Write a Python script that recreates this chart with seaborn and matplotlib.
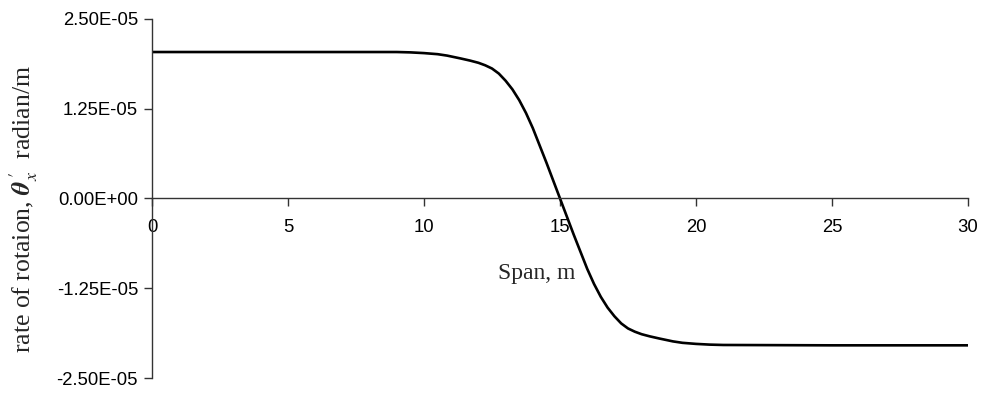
import matplotlib
matplotlib.use("Agg")
import matplotlib.pyplot as plt
import matplotlib.ticker as mticker
import seaborn as sns
import pandas as pd

# Rate of rotation along the span (radian/m)
span_m = [0, 5, 9, 9.5, 10, 10.5, 10.85, 11.1, 11.35, 11.7, 12.0, 12.25, 12.5, 12.75, 13.0,
          13.25, 13.5, 13.75, 14.0, 14.25, 14.5, 14.75, 15.0,
          15.25, 15.5, 15.75, 16.0, 16.25, 16.5, 16.75, 17.0, 17.25, 17.5, 17.75, 18.0,
          18.3, 18.65, 18.9, 19.15, 19.5, 20, 20.5, 21, 25, 30]
rotation_rate = [2.04e-5, 2.04e-5, 2.04e-5, 2.035e-5, 2.025e-5, 2.01e-5, 1.99e-5, 1.97e-5,
                 1.95e-5, 1.92e-5, 1.89e-5, 1.855e-5, 1.81e-5, 1.74e-5, 1.64e-5,
                 1.52e-5, 1.37e-5, 1.19e-5, 0.98e-5, 0.74e-5, 0.50e-5, 0.25e-5, 0.0,
                 -0.25e-5, -0.50e-5, -0.74e-5, -0.98e-5, -1.19e-5, -1.37e-5, -1.52e-5, -1.64e-5,
                 -1.74e-5, -1.81e-5, -1.855e-5, -1.89e-5,
                 -1.92e-5, -1.95e-5, -1.97e-5, -1.99e-5, -2.01e-5, -2.025e-5, -2.035e-5,
                 -2.04e-5, -2.045e-5, -2.045e-5]
x_ticks = [0, 5, 10, 15, 20, 25, 30]
y_ticks = [-2.5e-5, -1.25e-5, 0.0, 1.25e-5, 2.5e-5]

df = pd.DataFrame({"span": span_m, "rate": rotation_rate})

sns.set_style("white")
plt.rcParams["font.family"] = ["Liberation Sans", "DejaVu Sans"]
plt.rcParams["mathtext.fontset"] = "stix"
serif = ["Liberation Serif", "DejaVu Serif"]

fig = plt.figure(figsize=(9.83, 3.94), dpi=100)
ax = fig.add_axes([0.1546, 0.0406, 0.8302, 0.9112])

sns.lineplot(data=df, x="span", y="rate", ax=ax, color="black", linewidth=1.9)

ax.set_xlim(0, 30)
ax.set_ylim(-2.5e-5, 2.5e-5)
ax.set_xticks(x_ticks)
ax.set_yticks(y_ticks)
ax.yaxis.set_major_formatter(mticker.FuncFormatter(lambda v, p: "%.2E" % v))

# Axis lines: left spine at x=0, horizontal axis through y=0
for s in ["top", "right"]:
    ax.spines[s].set_visible(False)
ax.spines["bottom"].set_position(("data", 0))
for s in ["left", "bottom"]:
    ax.spines[s].set_color("#333333")
    ax.spines[s].set_linewidth(1.0)

ax.tick_params(axis="both", direction="out", length=6, width=1, color="#333333",
               labelsize=13.3, labelcolor="black", bottom=True, left=True)
ax.tick_params(axis="x", pad=9)
ax.tick_params(axis="y", pad=4)

ax.set_xlabel("")
ax.set_ylabel("")
ax.text(-0.157, 0.47, r"rate of rotaion, $\boldsymbol{\theta}_{x}^{\;\prime}$  radian/m",
        transform=ax.transAxes, rotation=90, ha="center", va="center",
        family=serif, fontsize=18.5)
ax.text(14.15, -1.05e-5, "Span, m", family=serif, fontsize=17, ha="center", va="center")

fig.savefig("out.png", dpi=100)
